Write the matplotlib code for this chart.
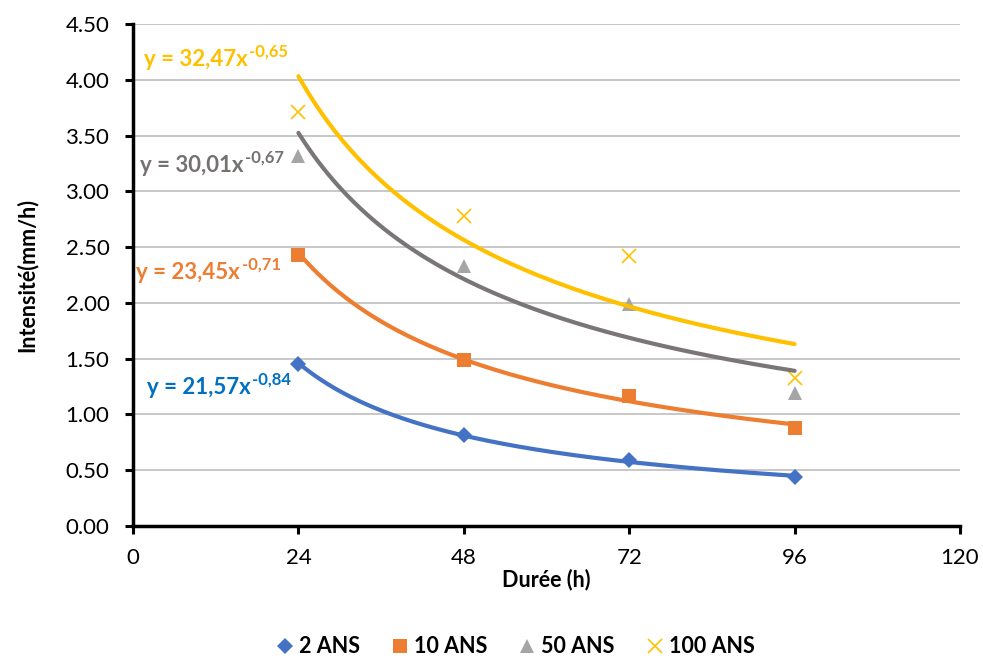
import numpy as np
import matplotlib
matplotlib.use("Agg")
import matplotlib.pyplot as plt

plt.rcParams['font.family'] = ['Lato', 'DejaVu Sans']

durations = [24, 48, 72, 96]
series_names = ["2 ANS", "10 ANS", "50 ANS", "100 ANS"]
ans2 = [1.45, 0.815, 0.59, 0.44]
ans10 = [2.43, 1.49, 1.17, 0.88]
ans50 = [3.32, 2.33, 1.99, 1.19]
ans100 = [3.71, 2.78, 2.42, 1.33]
equations = ["21,57x", "23,45x", "30,01x", "32,47x"]
exponents = ["-0,84", "-0,71", "-0,67", "-0,65"]

values = [ans2, ans10, ans50, ans100]
marker_colors = ["#4472C4", "#ED7D31", "#A5A5A5", "#FFC000"]
line_colors = ["#4472C4", "#ED7D31", "#7A7676", "#FFC000"]
label_colors = ["#0070C0", "#ED7D31", "#767171", "#FFC000"]
markers = ["D", "s", "^", "x"]
msizes = [8.5, 10, 9.5, 10]
label_pos = [(2.0, 1.24), (0.5, 2.27), (1.0, 3.23), (1.6, 4.18)]

fig = plt.figure(figsize=(9.83, 6.60), dpi=100)
ax = fig.add_axes([0.1353, 0.203, 0.8413, 0.7606])

xs = np.array(durations, dtype=float)
xfine = np.linspace(24, 96, 200)
handles = []
for i in range(4):
    ys = np.array(values[i])
    b, lna = np.polyfit(np.log(xs), np.log(ys), 1)
    ax.plot(xfine, np.exp(lna) * xfine ** b, color=line_colors[i], lw=3.0,
            solid_capstyle='round', zorder=3)
    kw = dict(markeredgewidth=1.2) if markers[i] == 'x' else dict(markeredgewidth=0)
    h, = ax.plot(xs, ys, linestyle='none', marker=markers[i], ms=msizes[i],
                 color=marker_colors[i], zorder=4 if i < 2 else 2, **kw)
    handles.append(h)
    t = ax.text(label_pos[i][0], label_pos[i][1], "y = " + equations[i],
                color=label_colors[i], fontsize=16, fontweight='bold',
                va='center', ha='left', zorder=5)
    ax.annotate(exponents[i], xy=(1.0, 0.5), xycoords=t, xytext=(1, 0),
                textcoords='offset points', color=label_colors[i], fontsize=12,
                fontweight='bold', va='bottom', ha='left', zorder=5)

ax.set_xlim(0, 120)
ax.set_ylim(0, 4.5)
ax.set_xticks([0, 24, 48, 72, 96, 120])
ax.set_yticks(np.arange(0, 4.51, 0.5))
ax.yaxis.set_major_formatter(matplotlib.ticker.FormatStrFormatter('%.2f'))
ax.grid(axis='y', color='#BFBFBF', lw=1.2, zorder=0)
ax.set_axisbelow(True)
for s in ['top', 'right']:
    ax.spines[s].set_visible(False)
for s in ['left', 'bottom']:
    ax.spines[s].set_linewidth(2.5)
    ax.spines[s].set_color('black')
ax.tick_params(axis='both', length=6, width=2.2, labelsize=16, colors='black')
ax.tick_params(axis='y', pad=11)
ax.tick_params(axis='x', pad=10)
ax.set_xlabel("Durée (h)", fontsize=15.5, fontweight='bold', labelpad=0)
ax.set_ylabel("Intensité(mm/h)", fontsize=15.5, fontweight='bold', labelpad=20)

leg = fig.legend(handles, series_names, loc='center', bbox_to_anchor=(0.525, 0.02),
                 ncol=4, frameon=False, prop={'weight': 'bold', 'size': 15.5},
                 handlelength=0.7, handletextpad=0.3, columnspacing=1.5)

fig.savefig("out.png", dpi=100)
